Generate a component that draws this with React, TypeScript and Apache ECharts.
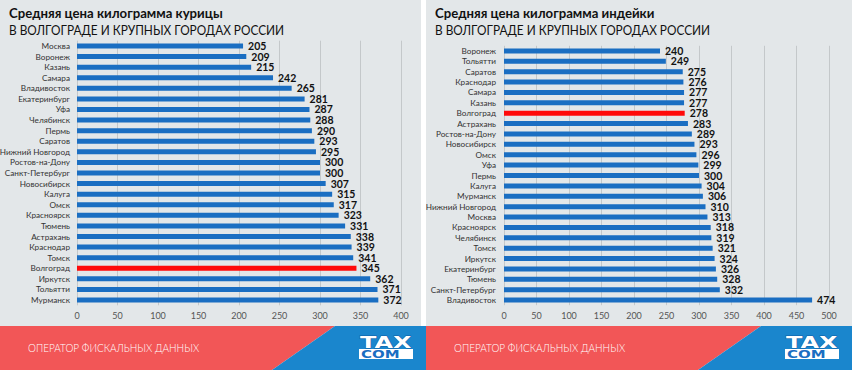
import React, { useEffect, useRef } from "react";
import * as echarts from "echarts";

const chickenCities = ["Москва","Воронеж","Казань","Самара","Владивосток","Екатеринбург","Уфа","Челябинск","Пермь","Саратов","Нижний Новгород","Ростов-на-Дону","Санкт-Петербург","Новосибирск","Калуга","Омск","Красноярск","Тюмень","Астрахань","Краснодар","Томск","Волгоград","Иркутск","Тольятти","Мурманск"];
const chickenPrices = [205,209,215,242,265,281,287,288,290,293,295,300,300,307,315,317,323,331,338,339,341,345,362,371,372];

const turkeyCities = ["Воронеж","Тольятти","Саратов","Краснодар","Самара","Казань","Волгоград","Астрахань","Ростов-на-Дону","Новосибирск","Омск","Уфа","Пермь","Калуга","Мурманск","Нижний Новгород","Москва","Красноярск","Челябинск","Томск","Иркутск","Екатеринбург","Тюмень","Санкт-Петербург","Владивосток"];
const turkeyPrices = [240,249,275,276,277,277,278,283,289,293,296,299,300,304,306,310,313,318,319,321,324,326,328,332,474];

const highlightCity = "Волгоград";
const titles = ["Средняя цена килограмма курицы", "Средняя цена килограмма индейки"];
const subtitle = "В ВОЛГОГРАДЕ И КРУПНЫХ ГОРОДАХ РОССИИ";
const bannerText = "ОПЕРАТОР ФИСКАЛЬНЫХ ДАННЫХ";

const BLUE = "#1a6ec2";
const RED = "#ff0a0a";
const BG = "#e3e7e9";
const FONT = "Lato, 'Open Sans', sans-serif";

function barData(cities: string[], values: number[]) {
  return values.map((v, i) => ({
    value: v,
    itemStyle: { color: cities[i] === highlightCity ? RED : BLUE },
  }));
}

function panelGraphics(x0: number, w: number, title: string) {
  const els: any[] = [];
  els.push({ type: "rect", z: -10, shape: { x: x0, y: 0, width: w, height: 326 }, style: { fill: BG } });
  els.push({ type: "text", z: 10, x: x0 + 9, y: 6, scaleX: 0.94, style: { text: title, font: `bold 14px ${FONT}`, fill: "#111" } });
  els.push({ type: "text", z: 10, x: x0 + 9, y: 23, scaleX: 0.845, style: { text: subtitle, font: `14px ${FONT}`, fill: "#111" } });
  // banner
  els.push({ type: "polygon", z: -5, shape: { points: [[x0, 326], [x0 + 335, 326], [x0 + 272, 370], [x0, 370]] }, style: { fill: "#f25657" } });
  els.push({ type: "polygon", z: -5, shape: { points: [[x0 + 335, 326], [x0 + 426, 326], [x0 + 426, 370], [x0 + 272, 370]] }, style: { fill: "#1a86cd" } });
  els.push({ type: "text", z: 10, x: x0 + 28, y: 341, scaleX: 0.87, style: { text: bannerText, font: `300 11.5px ${FONT}`, fill: "#fff" } });
  // logo
  els.push({ type: "text", z: 10, x: x0 + 360, y: 335, scaleX: 1.6, style: { text: "TAX", font: `900 15px 'DejaVu Sans', sans-serif`, fill: "#fff", stroke: "#0d5fa8", lineWidth: 0.8 } });
  els.push({ type: "rect", z: 10, shape: { x: x0 + 359, y: 349, width: 54, height: 10 }, style: { fill: "#fff" } });
  els.push({ type: "text", z: 11, x: x0 + 361, y: 349.5, scaleX: 1.5, style: { text: "COM", font: `900 10px 'DejaVu Sans', sans-serif`, fill: "#1a6ec2" } });
  return els;
}

export default function App() {
  const ref = useRef<HTMLDivElement>(null);
  useEffect(() => {
    if (!ref.current) return;
    const chart = echarts.init(ref.current, null, { renderer: "svg" });
    const yAxisCommon = {
      type: "category" as const,
      inverse: true,
      axisLine: { show: false },
      axisTick: { show: false },
      axisLabel: { interval: 0, fontSize: 8.2, color: "#333", fontFamily: FONT, margin: 7 },
    };
    const xAxisCommon = {
      type: "value" as const,
      min: 0,
      interval: 50,
      axisLine: { show: false },
      axisTick: { show: false },
      splitLine: { show: true, lineStyle: { color: "#c4c8ca", width: 1 } },
      axisLabel: { fontSize: 9, color: "#555", fontFamily: FONT, margin: 6 },
    };
    const labelCommon = {
      show: true,
      position: "right" as const,
      distance: 5,
      fontSize: 10.5,
      fontWeight: "bold" as const,
      color: "#111",
      fontFamily: FONT,
    };
    chart.setOption({
      animation: false,
      backgroundColor: "#ffffff",
      graphic: [...panelGraphics(0, 421, titles[0]), ...panelGraphics(426, 426, titles[1])],
      grid: [
        { left: 77, top: 40.7, width: 324, height: 264.6, containLabel: false, outerBoundsMode: "none" },
        { left: 504, top: 45.8, width: 325, height: 259.4, containLabel: false, outerBoundsMode: "none" },
      ],
      xAxis: [
        { ...xAxisCommon, gridIndex: 0, max: 400 },
        { ...xAxisCommon, gridIndex: 1, max: 500 },
      ],
      yAxis: [
        { ...yAxisCommon, gridIndex: 0, data: chickenCities },
        { ...yAxisCommon, gridIndex: 1, data: turkeyCities, axisLabel: { ...yAxisCommon.axisLabel, margin: 8 } },
      ],
      series: [
        { type: "bar", xAxisIndex: 0, yAxisIndex: 0, barWidth: 5, data: barData(chickenCities, chickenPrices), label: labelCommon },
        { type: "bar", xAxisIndex: 1, yAxisIndex: 1, barWidth: 5, data: barData(turkeyCities, turkeyPrices), label: labelCommon },
      ],
    });
    return () => chart.dispose();
  }, []);
  return <div ref={ref} style={{ position: "fixed", left: 0, top: 0, width: 852, height: 370 }} />;
}
